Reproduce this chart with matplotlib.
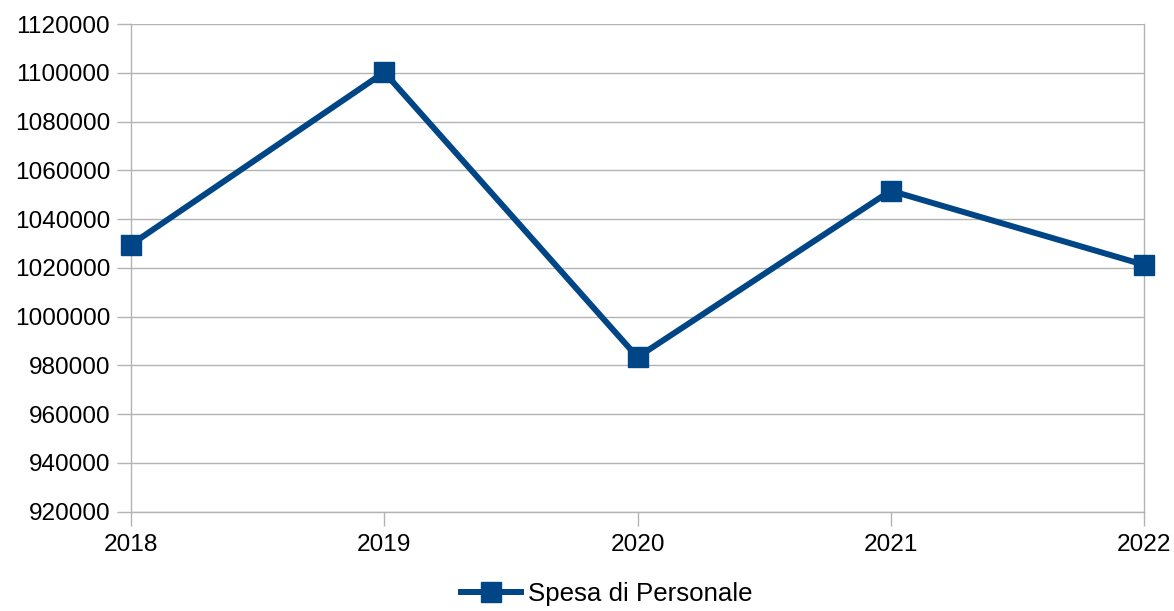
import matplotlib
matplotlib.use("Agg")
import matplotlib.pyplot as plt

# Data
years = ["2018", "2019", "2020", "2021", "2022"]
spesa = [1029500, 1100200, 983300, 1051600, 1021200]
y_ticks = list(range(920000, 1120001, 20000))

plt.rcParams['font.family'] = ['Liberation Sans', 'DejaVu Sans']

fig = plt.figure(figsize=(11.74, 6.11), dpi=100)
ax = fig.add_axes([131 / 1174, 1 - 511.5 / 611, (1144 - 131) / 1174, (511.5 - 24) / 611])

blue = "#004586"
x = list(range(len(years)))
ax.plot(x, spesa, color=blue, linewidth=4.3, marker="s", markersize=14,
        label="Spesa di Personale", clip_on=False, zorder=5)

ax.set_xlim(0, len(years) - 1)
ax.set_ylim(920000, 1120000)
ax.set_yticks(y_ticks)
ax.set_yticklabels([str(v) for v in y_ticks])
ax.set_xticks(x)
ax.set_xticklabels(years)

ax.grid(axis="y", color="#b3b3b3", linewidth=1)
ax.set_axisbelow(True)
ax.spines["top"].set_visible(False)
for side in ["left", "right", "bottom"]:
    ax.spines[side].set_color("#b3b3b3")
    ax.spines[side].set_linewidth(1)

ax.tick_params(axis="both", colors="#b3b3b3", length=10, width=1, labelsize=17.6,
               labelcolor="black")
ax.tick_params(axis="y", pad=5)
ax.tick_params(axis="x", pad=6)

leg = fig.legend(loc="center", bbox_to_anchor=(607 / 1174, 1 - 594 / 611), frameon=False,
                 fontsize=18.6, handlelength=2.3, handletextpad=0.3)

fig.savefig("out.png", dpi=100)
